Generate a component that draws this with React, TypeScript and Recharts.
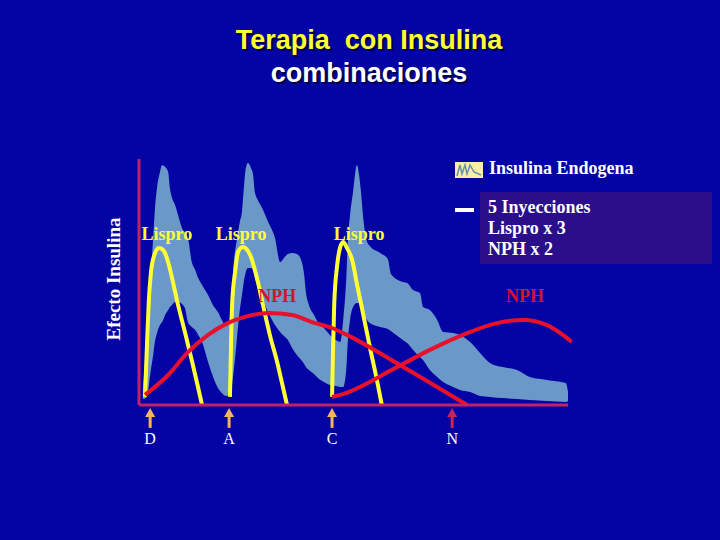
import React from "react";
import {
  ComposedChart,
  Area,
  Line,
  XAxis,
  YAxis,
  ReferenceLine,
  ReferenceDot,
} from "recharts";

// time axis 0..101 (arbitrary day units), effect axis 0..100
const bandT = [0.9, 1.6, 2.1, 2.6, 3.3, 3.7, 4.2, 4.9, 5.4, 6.1, 6.8, 7.2, 7.7, 8.4, 9.1, 10.0, 10.7, 11.4, 12.3, 13.1, 13.8, 14.7, 16.1, 17.2, 18.4, 19.3, 20.3, 21.0, 21.5, 22.1, 22.8, 23.5, 24.0, 24.5, 24.9, 25.4, 26.1, 26.6, 27.0, 27.7, 28.7, 30.1, 31.7, 32.9, 33.8, 34.7, 35.7, 36.8, 37.8, 38.5, 38.9, 39.6, 40.8, 41.7, 43.1, 44.5, 45.9, 46.9, 47.6, 48.3, 48.7, 49.2, 49.9, 50.8, 51.3, 51.7, 52.2, 52.9, 53.8, 56.2, 58.0, 58.7, 61.5, 62.5, 63.9, 65.5, 66.2, 67.8, 69.5, 70.9, 73.2, 74.8, 77.2, 79.5, 81.8, 84.8, 88.1, 91.1, 95.1, 99.5, 100.0];
const bandLow = [2.4, 2.8, 5.3, 12.2, 20.3, 25.6, 29.3, 32.5, 33.7, 36.6, 38.6, 39.8, 40.7, 41.9, 41.9, 41.1, 39.4, 33.7, 31.7, 30.5, 28.5, 25.6, 17.5, 11.8, 6.9, 4.9, 3.7, 4.1, 6.1, 14.2, 26.4, 38.6, 44.7, 50.8, 54.1, 55.7, 55.7, 54.9, 51.6, 47.6, 43.5, 37.8, 32.5, 29.7, 28.0, 26.4, 23.2, 20.3, 18.3, 16.7, 15.4, 14.2, 12.6, 11.0, 9.3, 8.1, 7.7, 7.3, 7.3, 14.2, 26.4, 34.6, 39.8, 41.5, 41.5, 40.2, 38.6, 35.4, 33.3, 31.7, 30.9, 30.1, 26.4, 25.2, 22.4, 19.5, 18.3, 14.2, 11.4, 9.3, 7.3, 6.1, 5.3, 3.7, 3.3, 2.8, 2.4, 2.0, 1.6, 1.2, 1.6];
const bandHigh = [6.1, 22.4, 34.6, 47.6, 67.9, 79.3, 88.2, 94.7, 97.6, 96.7, 94.7, 88.2, 84.1, 81.3, 77.2, 72.0, 69.9, 67.9, 58.1, 54.9, 51.6, 48.8, 44.7, 40.7, 37.8, 34.6, 32.1, 33.7, 42.7, 58.1, 67.1, 74.4, 78.5, 89.4, 96.3, 98.4, 96.3, 93.5, 86.6, 83.3, 80.1, 74.4, 67.9, 58.1, 59.8, 61.4, 61.8, 61.4, 58.9, 52.8, 45.9, 40.7, 36.6, 33.7, 31.3, 28.5, 26.4, 25.6, 34.6, 50.8, 67.1, 77.2, 86.6, 97.6, 93.5, 87.4, 77.2, 67.9, 64.6, 61.8, 59.3, 53.3, 50.0, 49.6, 46.7, 45.5, 39.8, 38.6, 34.6, 29.7, 29.3, 28.5, 25.6, 21.1, 17.1, 15.4, 14.2, 11.4, 10.2, 8.9, 5.3];

const lispro1T = [1.4, 1.9, 2.3, 2.8, 3.5, 4.7, 5.8, 6.8, 7.7, 9.1, 10.7, 12.4, 13.8, 14.7];
const lispro1Y = [3.3, 26.4, 42.7, 54.1, 60.6, 63.8, 62.6, 58.1, 51.6, 40.7, 29.7, 17.5, 6.9, 0];
const lispro2T = [21.2, 21.4, 21.7, 22.4, 23.1, 24.2, 25.9, 27.5, 28.9, 30.5, 32.2, 33.6, 34.5];
const lispro2Y = [3.3, 20.3, 40.7, 54.1, 62.2, 64.2, 61.0, 51.6, 40.7, 28.5, 17.5, 6.9, 0];
const lispro3T = [45.0, 45.2, 45.5, 46.2, 46.9, 47.6, 48.5, 49.7, 50.8, 52.2, 53.8, 55.5, 56.6];
const lispro3Y = [3.3, 20.3, 40.7, 56.9, 64.2, 66.3, 63.8, 58.9, 49.2, 37.4, 23.6, 9.8, 0];

const nph1T = [1.4, 6.8, 11.4, 16.1, 20.7, 24.7, 30.1, 35.7, 40.3, 45.0, 48.0, 60.8, 76.5];
const nph1Y = [4.1, 12.2, 21.5, 28.5, 33.3, 35.8, 37.4, 36.6, 33.7, 31.3, 28.9, 16.3, 0];
const nph2T = [45.0, 46.9, 60.1, 67.8, 75.5, 83.4, 89.5, 95.1, 98.8, 100.9];
const nph2Y = [3.3, 4.1, 15.4, 22.4, 28.5, 33.3, 34.6, 32.5, 28.5, 25.6];

const mealLabels = ["D", "A", "C", "N"];
const mealT = [2.6, 21.0, 45.0, 73.0];
const mealColors = ["#f5b35a", "#f5b35a", "#f5b35a", "#c8245c"];

const lisproLabelT = [6.5, 23.8, 51.3];
const nphLabelT = [32.2, 90.0];

const BG = "#0404a4";
const AXIS = "#c4206a";
const YELLOW = "#ffff33";
const RED = "#e8102a";
const BAND = "#6a98c8";
const SERIF = "'Liberation Serif', 'Times New Roman', serif";

const rows = (ts: number[], ys: number[]) => ts.map((t, i) => ({ t, v: ys[i] }));
const bandRows = bandT.map((t, i) => ({ t, range: [bandLow[i], bandHigh[i]] }));

const arrowShape = (label: string, color: string) => (p: any) => {
  const { x1, y1, y2 } = p;
  return (
    <g>
      <line x1={x1} y1={y1 + 6} x2={x1} y2={y2} stroke={color} strokeWidth={3} />
      <polygon points={`${x1},${y1} ${x1 - 5},${y1 + 9} ${x1 + 5},${y1 + 9}`} fill={color} />
      <text x={x1} y={y2 + 16} textAnchor="middle" fill="#fff" fontFamily={SERIF} fontSize={16}>
        {label}
      </text>
    </g>
  );
};

const textShape = (label: string, color: string) => (p: any) => (
  <text
    x={p.cx}
    y={p.cy}
    textAnchor="middle"
    dominantBaseline="central"
    fill={color}
    fontFamily={SERIF}
    fontWeight="bold"
    fontSize={18}
  >
    {label}
  </text>
);

const legendText: React.CSSProperties = {
  position: "absolute",
  color: "#fff",
  fontFamily: SERIF,
  fontWeight: "bold",
  fontSize: 18,
  lineHeight: "21px",
  whiteSpace: "pre",
};

export default function App() {
  return (
    <div style={{ position: "absolute", left: 0, top: 0, width: 720, height: 540, background: BG, overflow: "hidden" }}>
      <div
        style={{
          position: "absolute",
          left: 0,
          width: 738,
          top: 24,
          textAlign: "center",
          fontFamily: "'Liberation Sans', Arial, sans-serif",
          fontWeight: "bold",
          fontSize: 27,
          lineHeight: "33px",
          whiteSpace: "pre",
          textShadow: "2px 2px 1px #000040",
        }}
      >
        <div style={{ color: YELLOW }}>Terapia  con Insulina</div>
        <div style={{ color: "#fff" }}>combinaciones</div>
      </div>

      <div
        style={{
          position: "absolute",
          left: 114,
          top: 279,
          transform: "translate(-50%, -50%) rotate(-90deg)",
          color: "#fff",
          fontFamily: SERIF,
          fontWeight: "bold",
          fontSize: 19,
          whiteSpace: "nowrap",
        }}
      >
        Efecto Insulina
      </div>

      <ComposedChart
        width={720}
        height={540}
        margin={{ top: 159, right: 147.7, bottom: 100.56, left: 139 }}
        style={{ position: "absolute", left: 0, top: 0 }}
      >
        <XAxis type="number" dataKey="t" domain={[0, 101]} allowDataOverflow hide />
        <YAxis type="number" domain={[-14, 100]} allowDataOverflow hide />
        <Area
          data={bandRows}
          dataKey="range"
          type="monotone"
          stroke="none"
          fill={BAND}
          fillOpacity={1}
          isAnimationActive={false}
        />
        {[
          [lispro1T, lispro1Y],
          [lispro2T, lispro2Y],
          [lispro3T, lispro3Y],
        ].map(([ts, ys], i) => (
          <Line
            key={"l" + i}
            data={rows(ts, ys)}
            dataKey="v"
            type="monotone"
            stroke={YELLOW}
            strokeWidth={4}
            dot={false}
            isAnimationActive={false}
          />
        ))}
        {[
          [nph1T, nph1Y],
          [nph2T, nph2Y],
        ].map(([ts, ys], i) => (
          <Line
            key={"n" + i}
            data={rows(ts, ys)}
            dataKey="v"
            type="monotone"
            stroke={RED}
            strokeWidth={4}
            dot={false}
            isAnimationActive={false}
          />
        ))}
        <ReferenceLine segment={[{ x: 0, y: 0 }, { x: 0, y: 100 }]} stroke={AXIS} strokeWidth={3} />
        <ReferenceLine segment={[{ x: 0, y: 0 }, { x: 100, y: 0 }]} stroke={AXIS} strokeWidth={3} />
        {mealT.map((t, i) => (
          <ReferenceLine
            key={"m" + i}
            segment={[{ x: t, y: -1.2 }, { x: t, y: -9.3 }]}
            shape={arrowShape(mealLabels[i], mealColors[i])}
          />
        ))}
        {lisproLabelT.map((t, i) => (
          <ReferenceDot key={"lt" + i} x={t} y={69.5} r={0} shape={textShape("Lispro", YELLOW)} />
        ))}
        {nphLabelT.map((t, i) => (
          <ReferenceDot key={"nt" + i} x={t} y={44.3} r={0} shape={textShape("NPH", "#d81030")} />
        ))}
      </ComposedChart>

      <svg width={28} height={16} style={{ position: "absolute", left: 455, top: 162 }}>
        <rect x={0} y={0} width={28} height={16} fill="#f6efa4" />
        <path d="M2 14 L5 3 L7 12 L10 3 L12 12 L15 3 L19 10 L26 13" fill="none" stroke="#6a8fb4" strokeWidth={1.5} />
      </svg>
      <div style={{ ...legendText, left: 489, top: 158 }}>Insulina Endogena</div>
      <div style={{ position: "absolute", left: 480, top: 192, width: 232, height: 72, background: "#2a0e8a" }} />
      <div style={{ position: "absolute", left: 455, top: 208, width: 19, height: 4, background: "#fff" }} />
      <div style={{ ...legendText, left: 488, top: 197 }}>
        {"5 Inyecciones\nLispro x 3\nNPH x 2"}
      </div>
    </div>
  );
}
